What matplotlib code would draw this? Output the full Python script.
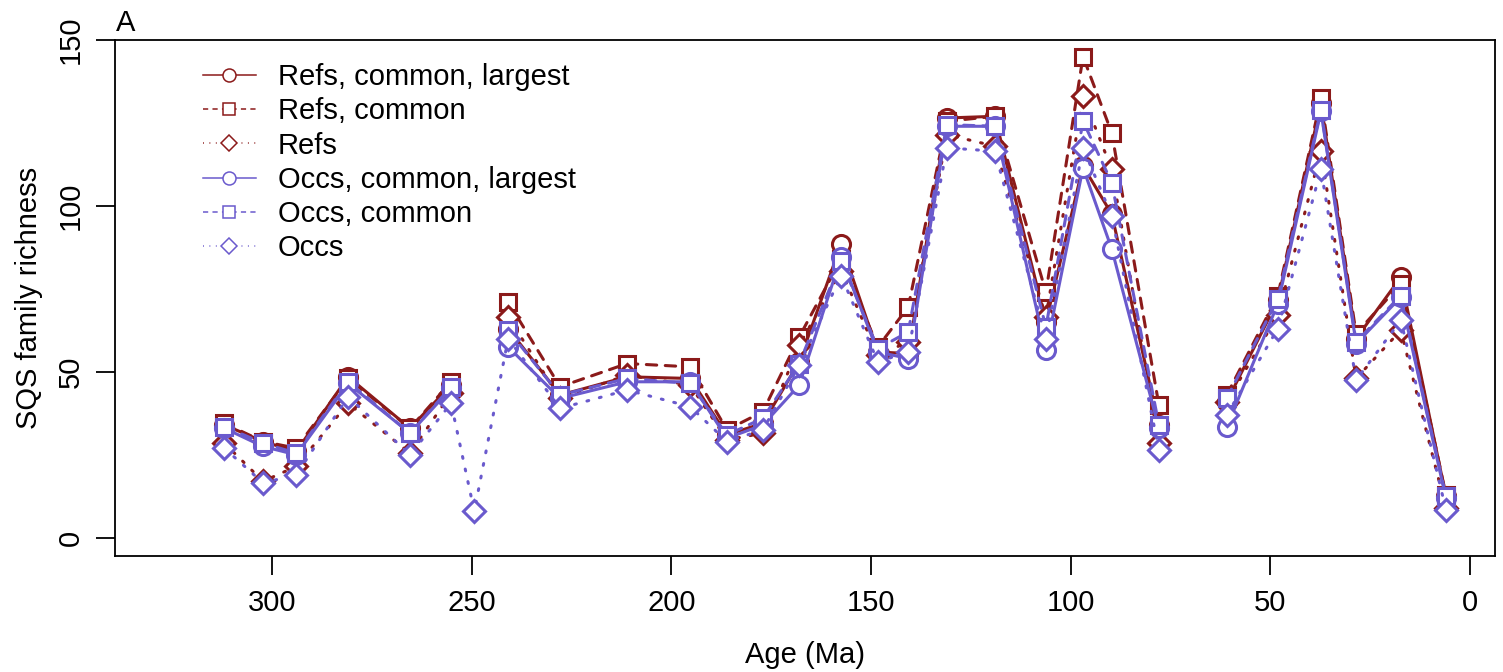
import numpy as np
from matplotlib import pyplot as plt
from matplotlib.lines import Line2D

nan = np.nan

# Edades (Ma) de cada intervalo
edades = [312.0, 302.3, 294.0, 281.0, 265.5, 255.2, 249.4, 240.9, 227.9, 211.1,
          195.3, 186.1, 177.1, 168.0, 157.5, 148.3, 140.7, 131.0, 119.0, 106.2,
          96.9, 89.7, 77.9, 69.0, 60.9, 48.1, 37.3, 28.5, 17.3, 6.0]

refs_common_largest = [34, 29, 26, 48.5, 33, 46, nan, 63, 43, 48.5,
                       48, 31, 34.5, 53, 88.5, 56, 55.5, 126.5, 127, 65,
                       112, 97.5, 34, nan, 41, 71.5, 131, 60, 78.5, 12.5]
refs_common = [34.5, 29, 27, 48, 33, 47, nan, 71, 45.5, 52.5,
               51.5, 32.5, 38, 60.5, 84, 57.5, 69.5, 125.5, 127, 74,
               145, 122, 40, nan, 43, 73, 132.5, 61.5, 76.5, 13]
refs = [28.5, 17, 21.5, 40.5, 25.5, 43.5, nan, 66.5, 42, 49,
        46, 29.5, 31.5, 58, 80.5, 55, 59, 121.5, 118, 66.5,
        133, 111, 28.5, nan, 41, 67, 116.5, 48, 62.5, 9]
occs_common_largest = [33, 27.5, 25, 46.5, 31.5, 45, nan, 57.5, 42, 47,
                       47, 30, 34, 46, 84.5, 56, 54, 124, 124, 56.5,
                       111.5, 87, 33, nan, 33.5, 70.5, 128.5, 58.5, 72.5, 12]
occs_common = [33.5, 28.5, 25.5, 47, 31.5, 45.5, nan, 62.5, 43, 48,
               46.5, 31, 36, 52.5, 83.5, 57, 62, 124.5, 124, 63.5,
               125.5, 107, 34, nan, 42, 72, 129, 59, 73, 12.5]
occs = [27, 16.5, 19, 42.5, 25, 40.5, 8, 60, 39, 44.5,
        39.5, 29, 32.5, 52, 79, 53, 56, 117.5, 116.5, 60,
        117.5, 97, 26.5, nan, 37, 63, 111, 47.5, 65.5, 8.5]

etiquetas = ["Refs, common, largest", "Refs, common", "Refs",
             "Occs, common, largest", "Occs, common", "Occs"]

rojo = "#8B1A1A"
azul = "#6A5ACD"

solido = "-"
guiones = (0, (3.4, 2.8))
puntos = (0, (0.6, 3.6))

series = [
    (refs_common_largest, rojo, solido, "o", 13),
    (refs_common, rojo, guiones, "s", 12),
    (refs, rojo, puntos, "D", 11.5),
    (occs_common_largest, azul, solido, "o", 13),
    (occs_common, azul, guiones, "s", 12),
    (occs, azul, puntos, "D", 11.5),
]

plt.rcParams['font.family'] = ['Liberation Sans', 'DejaVu Sans']
plt.rcParams['font.size'] = 21

fig = plt.figure(figsize=(15.03, 6.72), dpi=100)
ax = fig.add_axes([115 / 1503, 1 - 556 / 672, 1380 / 1503, 516 / 672])

for valores, color, estilo, marcador, tam in series:
    ax.plot(edades, valores, color=color, linestyle=estilo, linewidth=2.2,
            marker=marcador, markersize=tam, markerfacecolor="white",
            markeredgecolor=color, markeredgewidth=2.2, dash_capstyle="round")

ax.set_xlim(339.4, -6.3)
ax.set_ylim(-5.5, 150)
ax.set_xticks([300, 250, 200, 150, 100, 50, 0])
ax.set_yticks([0, 50, 100, 150])
ax.tick_params(length=14, width=1.3, labelsize=21)
ax.tick_params(axis="x", pad=10)
ax.tick_params(axis="y", pad=8)
for lab in ax.get_yticklabels():
    lab.set_rotation(90)
    lab.set_va("center")
for s in ax.spines.values():
    s.set_linewidth(1.3)

ax.set_xlabel("Age (Ma)", fontsize=21, labelpad=17)
ax.set_ylabel("SQS family richness", fontsize=21, labelpad=10)
ax.text(0.001, 1.005, "A", transform=ax.transAxes, ha="left", va="bottom", fontsize=21)

# Leyenda con líneas finas
manijas = []
for (valores, color, estilo, marcador, tam), et in zip(series, etiquetas):
    manijas.append(Line2D([], [], color=color, linestyle=estilo, linewidth=1.1,
                          marker=marcador, markersize=tam * 0.72,
                          markerfacecolor="white", markeredgecolor=color,
                          markeredgewidth=1.1, label=et))
ax.legend(handles=manijas, loc="upper left", bbox_to_anchor=(0.055, 0.978),
          frameon=False, fontsize=21, handlelength=1.82, handletextpad=0.75,
          labelspacing=0.215, borderaxespad=0)

plt.savefig("out.png", dpi=100)
